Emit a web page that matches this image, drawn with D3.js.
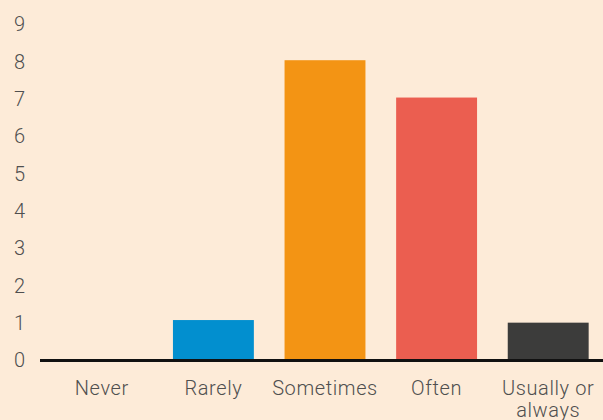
<!DOCTYPE html>
<html>
<head>
<meta charset="utf-8">
<script src="https://cdn.jsdelivr.net/npm/d3@7"></script>
<style>
    body { margin: 0; background: #fdebd8; }
    svg { display: block; }
    .tick-label { font-family: Roboto, sans-serif; font-weight: 300; font-size: 20px; fill: #4f4f4f; letter-spacing: 0.6px; }
</style>
</head>
<body>
<script>
const categories = ["Never", "Rarely", "Sometimes", "Often", "Usually or always"];
const values = [0, 1.07, 8.03, 7.03, 1];
const colors = ["#3c3c3b", "#028fcf", "#f39414", "#eb5e50", "#3c3c3b"];
const yTicks = [0, 1, 2, 3, 4, 5, 6, 7, 8, 9];

const width = 603, height = 420;

let svg = d3.select("body")
    .append("svg")
    .attr("width", width)
    .attr("height", height);

let x = d3.scaleBand()
    .domain(categories)
    .range([46, 604])
    .paddingInner(0.275)
    .paddingOuter(0.1375);

let y = d3.scaleLinear()
    .domain([0, 9])
    .range([360, 24]);

svg.selectAll("rect.bar")
    .data(categories)
    .enter()
    .append("rect")
    .attr("class", "bar")
    .attr("x", d => x(d))
    .attr("width", x.bandwidth())
    .attr("y", (d, i) => y(values[i]))
    .attr("height", (d, i) => y(0) - y(values[i]))
    .attr("fill", (d, i) => colors[i]);

svg.append("line")
    .attr("x1", 40)
    .attr("x2", width)
    .attr("y1", y(0) + 0.5)
    .attr("y2", y(0) + 0.5)
    .attr("stroke", "#111")
    .attr("stroke-width", 3);

svg.selectAll("text.ylab")
    .data(yTicks)
    .enter()
    .append("text")
    .attr("class", "tick-label ylab")
    .attr("x", 14)
    .attr("y", d => y(d))
    .attr("dy", "0.36em")
    .text(d => d);

// x labels, the last one wraps onto two lines (cut at the bottom like the original)
let xl = svg.selectAll("text.xlab")
    .data(categories)
    .enter()
    .append("text")
    .attr("class", "tick-label xlab")
    .attr("text-anchor", "middle")
    .attr("y", 395);

xl.each(function (d) {
    let lines = d == "Usually or always" ? ["Usually or", "always"] : [d];
    let t = d3.select(this);
    lines.forEach((s, i) => {
        t.append("tspan")
            .attr("x", x(d) + x.bandwidth() / 2)
            .attr("dy", i == 0 ? 0 : 22)
            .text(s);
    });
});
</script>
</body>
</html>
